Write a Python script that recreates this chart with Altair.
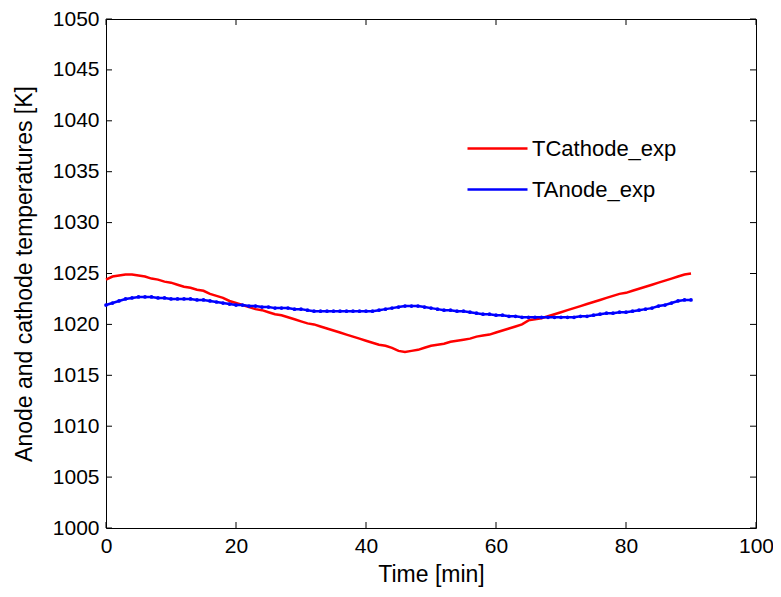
import altair as alt
import pandas as pd

time_min = list(range(0, 91))

t_cathode = [
    1024.4, 1024.7, 1024.8, 1024.9, 1024.9, 1024.8, 1024.7, 1024.5, 1024.4, 1024.2,
    1024.1, 1023.9, 1023.7, 1023.6, 1023.4, 1023.3, 1023.0, 1022.8, 1022.6, 1022.3,
    1022.1, 1021.9, 1021.7, 1021.5, 1021.4, 1021.2, 1021.0, 1020.9, 1020.7, 1020.5,
    1020.3, 1020.1, 1020.0, 1019.8, 1019.6, 1019.4, 1019.2, 1019.0, 1018.8, 1018.6,
    1018.4, 1018.2, 1018.0, 1017.9, 1017.7, 1017.4, 1017.3, 1017.4, 1017.5, 1017.7,
    1017.9, 1018.0, 1018.1, 1018.3, 1018.4, 1018.5, 1018.6, 1018.8, 1018.9, 1019.0,
    1019.2, 1019.4, 1019.6, 1019.8, 1020.0, 1020.4, 1020.5, 1020.6, 1020.8, 1021.0,
    1021.2, 1021.4, 1021.6, 1021.8, 1022.0, 1022.2, 1022.4, 1022.6, 1022.8, 1023.0,
    1023.1, 1023.3, 1023.5, 1023.7, 1023.9, 1024.1, 1024.3, 1024.5, 1024.7, 1024.9,
    1025.0,
]

t_anode = [
    1021.9, 1022.1, 1022.3, 1022.5, 1022.6, 1022.7, 1022.7, 1022.7, 1022.6, 1022.6,
    1022.5, 1022.5, 1022.5, 1022.5, 1022.4, 1022.4, 1022.3, 1022.2, 1022.1, 1022.0,
    1021.9, 1021.9, 1021.8, 1021.8, 1021.7, 1021.7, 1021.6, 1021.6, 1021.6, 1021.5,
    1021.5, 1021.4, 1021.3, 1021.3, 1021.3, 1021.3, 1021.3, 1021.3, 1021.3, 1021.3,
    1021.3, 1021.3, 1021.4, 1021.5, 1021.6, 1021.7, 1021.8, 1021.8, 1021.8, 1021.7,
    1021.6, 1021.5, 1021.4, 1021.4, 1021.3, 1021.3, 1021.2, 1021.1, 1021.0, 1021.0,
    1020.9, 1020.9, 1020.8, 1020.8, 1020.7, 1020.7, 1020.7, 1020.7, 1020.7, 1020.7,
    1020.7, 1020.7, 1020.7, 1020.8, 1020.8, 1020.9, 1021.0, 1021.1, 1021.1, 1021.2,
    1021.2, 1021.3, 1021.4, 1021.5, 1021.6, 1021.8, 1021.9, 1022.1, 1022.3, 1022.4,
    1022.4,
]

series_names = ["TCathode_exp", "TAnode_exp"]
series_colors = ["#ff0000", "#0000ff"]
x_ticks = [0, 20, 40, 60, 80, 100]
y_ticks = [1000, 1005, 1010, 1015, 1020, 1025, 1030, 1035, 1040, 1045, 1050]

df = pd.DataFrame({
    "time": time_min * 2,
    "temp": t_cathode + t_anode,
    "series": [series_names[0]] * len(time_min) + [series_names[1]] * len(time_min),
})
df_anode = df[df["series"] == series_names[1]]

FONT = "Liberation Sans"
W, H = 650, 509

xscale = alt.Scale(domain=[0, 100], nice=False, zero=False)
yscale = alt.Scale(domain=[1000, 1050], nice=False, zero=False)

color = alt.Color(
    "series:N",
    scale=alt.Scale(domain=series_names, range=series_colors),
    sort=series_names,
    legend=alt.Legend(
        title=None,
        orient="none",
        legendX=370,
        legendY=108,
        symbolType="M-1.5,0L1.5,0",
        symbolSize=1600,
        symbolStrokeWidth=2.5,
        symbolFillColor="transparent",
        labelFontSize=22,
        labelFont=FONT,
        labelColor="black",
        rowPadding=8,
        labelOffset=13,
    ),
)

lines = alt.Chart(df).mark_line(strokeWidth=2.5).encode(
    x=alt.X("time:Q", scale=xscale,
            axis=alt.Axis(title="Time [min]", values=x_ticks, tickSize=0,
                          labelPadding=7, titlePadding=7, labelFlush=False)),
    y=alt.Y("temp:Q", scale=yscale,
            axis=alt.Axis(title="Anode and cathode temperatures [K]", values=y_ticks,
                          format="d", tickSize=0, labelPadding=7, titlePadding=16)),
    color=color,
    detail="series:N",
)

pts = alt.Chart(df_anode).mark_circle(size=14, opacity=1, color="#0000ff").encode(
    x=alt.X("time:Q", scale=xscale),
    y=alt.Y("temp:Q", scale=yscale),
)

xt = pd.DataFrame({"v": x_ticks})
yt = pd.DataFrame({"v": y_ticks})

xtick_b = alt.Chart(xt).mark_rule(color="black").encode(
    x=alt.X("v:Q", scale=xscale), y=alt.value(H), y2=alt.value(H - 6))
xtick_t = alt.Chart(xt).mark_rule(color="black").encode(
    x=alt.X("v:Q", scale=xscale), y=alt.value(0), y2=alt.value(6))
ytick_l = alt.Chart(yt).mark_rule(color="black").encode(
    y=alt.Y("v:Q", scale=yscale), x=alt.value(0), x2=alt.value(6))
ytick_r = alt.Chart(yt).mark_rule(color="black").encode(
    y=alt.Y("v:Q", scale=yscale), x=alt.value(W), x2=alt.value(W - 6))

chart = alt.layer(lines, pts, xtick_b, xtick_t, ytick_l, ytick_r).properties(
    width=W, height=H,
    autosize=alt.AutoSizeParams(type="none"),
    padding={"left": 98, "top": 11, "right": 17, "bottom": 60},
    background="white",
).configure_view(
    stroke="black", strokeWidth=1,
).configure_axis(
    domain=False, grid=False,
    labelFont=FONT, labelFontSize=21, labelColor="black",
    titleFont=FONT, titleFontSize=23, titleFontWeight="normal", titleColor="black",
)

chart.save("out.html", embed_options={"renderer": "svg", "actions": False})
